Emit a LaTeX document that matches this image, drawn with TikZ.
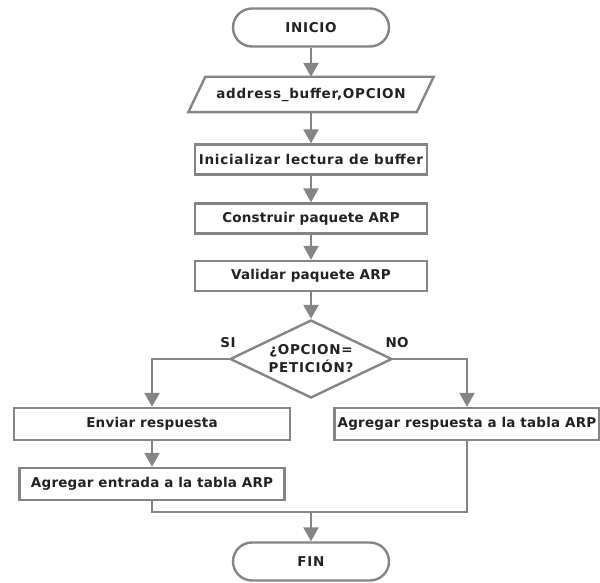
\documentclass[tikz,border=0pt]{standalone}
\usepackage{fontspec}
\setmainfont{DejaVu Sans}[LetterSpace=1.5]
\newfontfamily\widefam{DejaVu Sans}[LetterSpace=5.5]
\usetikzlibrary{shapes.geometric,arrows.meta}
\definecolor{lc}{HTML}{858585}
\definecolor{tc}{HTML}{222222}
\tikzset{
  x=1pt,y=-1pt,
  base/.style={draw=lc,line width=2.4pt,fill=white,text=tc,font=\bfseries\fontsize{13.5}{16}\selectfont,inner sep=0pt},
  wide/.style={font=\widefam\bfseries\fontsize{13.5}{18}\selectfont},
  term/.style={base,rounded corners=19pt,minimum width=156pt,minimum height=38pt},
  procbox/.style={base,rectangle,minimum height=30pt},
  decbox/.style={base,diamond,minimum width=162pt,minimum height=78pt},
  txt/.style={text=tc,font=\bfseries\fontsize{13.5}{18}\selectfont,align=center,inner sep=0pt},
  conn/.style={draw=lc,line width=2.4pt},
  arr/.style={conn,-{Triangle[length=14pt,width=15pt]}},
}
\begin{document}
\begin{tikzpicture}
\useasboundingbox (0,0) rectangle (600,583);
\node[term,wide] (ini) at (311,27.5) {INICIO};
\node[txt,wide,minimum width=228pt,minimum height=35pt] (par) at (311,94.5) {address\_buffer,OPCION};
\draw[conn] ([xshift=8.5pt]par.north west) -- ([xshift=8.5pt]par.north east) -- ([xshift=-8.5pt]par.south east) -- ([xshift=-8.5pt]par.south west) -- cycle;
\node[procbox,wide,minimum width=232pt] (b1) at (311,159.5) {Inicializar lectura de buffer};
\node[procbox,minimum width=232pt] (b2) at (311,218.5) {Construir paquete ARP};
\node[procbox,minimum width=232pt] (b3) at (311,276) {Validar paquete ARP};
\node[decbox] (dec) at (311,359) {};
\node[txt,wide] (dect) at (dec) {¿OPCION=\\PETICIÓN?};
\node[txt,wide] (si) at (228,343) {SI};
\node[txt] (no) at (397,343) {NO};
\node[procbox,minimum width=276pt,minimum height=32pt] (env) at (152,424) {Enviar respuesta};
\node[procbox,minimum width=265pt,minimum height=32pt] (agr) at (467,424) {Agregar respuesta a la tabla ARP};
\node[procbox,minimum width=265pt,minimum height=32pt] (ent) at (152,484) {Agregar entrada a la tabla ARP};
\node[term,wide] (fin) at (311,561.5) {FIN};
\coordinate (m) at (311,512);
\draw[arr] (ini) -- (par);
\draw[arr] (par) -- (b1);
\draw[arr] (b1) -- (b2);
\draw[arr] (b2) -- (b3);
\draw[arr] (b3) -- (dec);
\draw[arr] (dec.west) -| (env.north);
\draw[arr] (dec.east) -| (agr.north);
\draw[arr] (env) -- (ent);
\draw[conn] (ent.south) |- (m);
\draw[conn] (agr.south) |- (m);
\draw[arr] (m) -- (fin.north);
\end{tikzpicture}
\end{document}
